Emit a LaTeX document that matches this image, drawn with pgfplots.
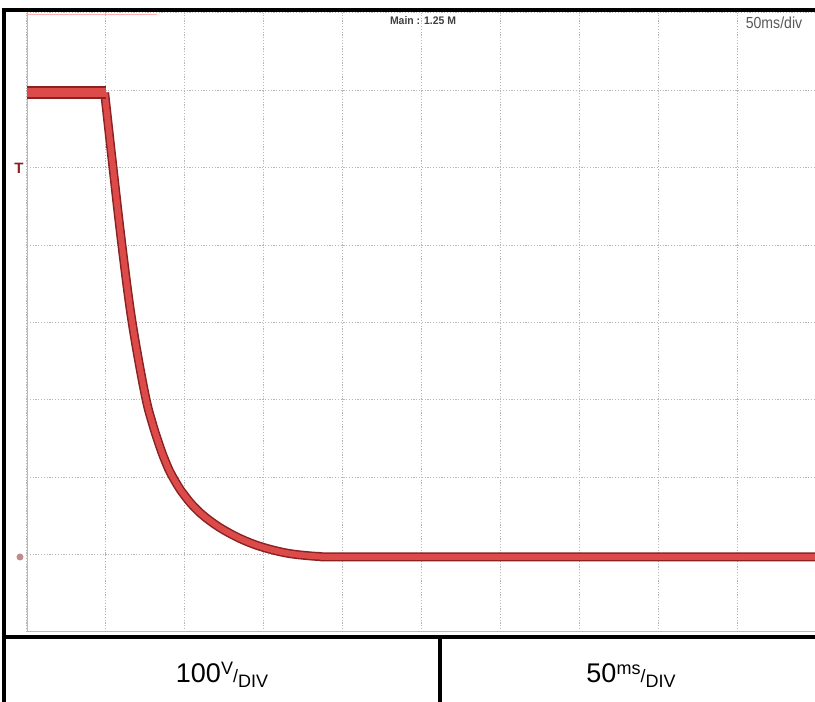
\documentclass[border=0pt]{standalone}
\usepackage{fontspec}
\setmainfont{Liberation Sans}
\usepackage{pgfplots}
\usepackage{pgfplotstable}
\pgfplotsset{compat=1.18}
\definecolor{tracered}{HTML}{DD4A4A}
\definecolor{tracedark}{HTML}{8A2222}
\definecolor{gridgray}{HTML}{B8B8B8}
\pgfplotstableread{
t v
0 597
49.8 597
}\tracetop
\pgfplotstableread{
t v
49.2 597
54.4 502
60.1 401
66.5 302
74.7 208
79.7 168
84.8 136
88.0 119
91.1 105
96.2 87
100.0 76
104.4 65
110.0 53.5
117.1 42
125.0 31.5
134.8 21
145.0 12.5
155.7 6
166.0 1.5
176.0 -1
186.0 -2.5
198.0 -3
300 -3
400 -3
500 -3
}\tracedecay
\begin{document}
\begin{tikzpicture}[x=1pt,y=1pt]
\path[use as bounding box] (0,0) rectangle (815,702);
\fill[white] (0,0) rectangle (815,702);
\begin{axis}[at={(27pt,70pt)}, anchor=south west, scale only axis,
  width=789pt, height=619pt,
  xmin=0, xmax=500, ymin=-100, ymax=700,
  xtick={0,50,...,500}, ytick={-100,0,...,700},
  xticklabels={}, yticklabels={}, major tick length=0pt,
  tick style={draw=none},
  grid=major, grid style={gridgray, line width=1pt, dash pattern=on 1.2pt off 1.6pt},
  axis line style={draw=none}]
\draw[gray!55, line width=1.6pt] (rel axis cs:0,1) -- (rel axis cs:0,0) -- (rel axis cs:1,0);
\draw[red!30, line width=1pt] (rel axis cs:0,0.998) -- (rel axis cs:0.165,0.998);
\addplot[tracedark, line width=9pt, smooth, tension=0.6, line join=round] table[x=t,y=v] {\tracedecay};
\addplot[tracered, line width=6pt, smooth, tension=0.6, line join=round] table[x=t,y=v] {\tracedecay};
\addplot[tracedark, line width=13pt] table[x=t,y=v] {\tracetop};
\addplot[tracered, line width=9pt] table[x=t,y=v] {\tracetop};
\end{axis}
% scope annotations
\node[font=\fontsize{11}{11}\selectfont\bfseries, text=black!75, inner sep=0pt] at (423,681) {\scalebox{0.95}[1]{Main : 1.25 M}};
\node[font=\fontsize{16}{16}\selectfont, text=black!65, inner sep=0pt] at (774,679) {\scalebox{0.88}[1]{50ms/div}};
\node[font=\fontsize{15}{15}\selectfont\bfseries, text=tracedark, inner sep=0pt] at (19,534) {T};
\fill[red!30!gray!70] (20,145) circle (3.5pt);
% frame and table
\draw[black, line width=4pt] (3.5,0) -- (3.5,692) -- (815,692);
\draw[black, line width=4pt] (3.5,65) -- (815,65);
\draw[black, line width=4pt] (439.5,0) -- (439.5,65);
\node[font=\fontsize{27}{30}\selectfont, anchor=base, inner sep=0pt] at (222,19) {100\raisebox{8pt}{\fontsize{18}{18}\selectfont V}{\fontsize{18}{18}\selectfont /}\raisebox{-5pt}{\fontsize{18}{18}\selectfont DIV}};
\node[font=\fontsize{27}{30}\selectfont, anchor=base, inner sep=0pt] at (631,19) {50\raisebox{8pt}{\fontsize{18}{18}\selectfont ms}{\fontsize{18}{18}\selectfont /}\raisebox{-5pt}{\fontsize{18}{18}\selectfont DIV}};
\end{tikzpicture}
\end{document}
